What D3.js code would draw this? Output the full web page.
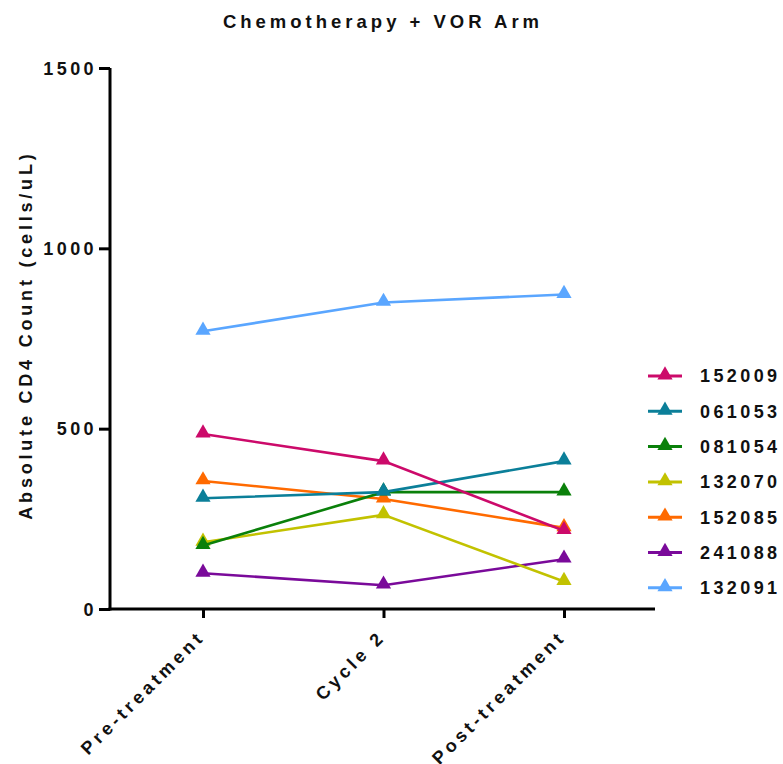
<!DOCTYPE html>
<html>
<head>
<meta charset="utf-8">
<script src="https://cdn.jsdelivr.net/npm/d3@7"></script>
<style>
  body { margin: 0; background: #fff; }
  text { font-family: "Liberation Sans", Arial, sans-serif; font-weight: bold; fill: #111; }
</style>
</head>
<body>
<div id="chart"></div>
<script>
// timepoints and patients
var timepoints = ["Pre-treatment", "Cycle 2", "Post-treatment"];
var patients = ["152009", "061053", "081054", "132070", "152085", "241088", "132091"];
var colors = ["#cc0a6a", "#0b7f99", "#0a800a", "#c2c200", "#ff6a00", "#7a0a9a", "#5aa6ff"];

// CD4 counts per patient, one per timepoint
var p152009 = [485, 410, 217];
var p061053 = [307, 324, 410];
var p081054 = [176, 324, 324];
var p132070 = [185, 261, 76];
var p152085 = [355, 305, 225];
var p241088 = [99, 66, 138];
var p132091 = [770, 850, 872];
var values = [p152009, p061053, p081054, p132070, p152085, p241088, p132091];

var yTicks = [0, 500, 1000, 1500];

var width = 783, height = 764;
var fs = 18, sp = 3.4; // wide letter spacing of the original

var svg = d3.select('#chart')
  .append('svg')
  .attr('width', width)
  .attr('height', height);

var x = d3.scalePoint().domain(timepoints).range([203, 564]);
var y = d3.scaleLinear().domain([0, 1500]).range([609, 68]);

// title
svg.append('text')
  .attr('x', 381 + 2)
  .attr('y', 28)
  .attr('text-anchor', 'middle')
  .style('font-size', '18.5px')
  .style('letter-spacing', '4px')
  .text('Chemotherapy + VOR Arm');

// y axis
var yAxis = svg.append('g')
  .attr('transform', 'translate(110,0)')
  .call(d3.axisLeft(y).tickValues(yTicks).tickFormat(d3.format('d')).tickSize(11).tickPadding(2));
yAxis.select('.domain').attr('stroke-width', 3).attr('d', 'M0,' + y(1500) + 'V' + (y(0) + 1.5));
yAxis.selectAll('.tick line').attr('stroke-width', 3);
yAxis.selectAll('.tick text')
  .style('font-size', fs + 'px')
  .style('letter-spacing', sp + 'px')
  .attr('dy', '0.35em');

// x axis
var xAxis = svg.append('g')
  .attr('transform', 'translate(0,609)')
  .call(d3.axisBottom(x).tickSize(9).tickFormat(''));
xAxis.select('.domain').attr('stroke-width', 3).attr('d', 'M108.5,0H655');
xAxis.selectAll('.tick line').attr('stroke-width', 3);

svg.selectAll('.xlab')
  .data(timepoints)
  .enter()
  .append('text')
  .attr('class', 'xlab')
  .attr('text-anchor', 'end')
  .attr('transform', function(d) { return 'translate(' + (x(d) + 3) + ',638) rotate(-45)'; })
  .style('font-size', fs + 'px')
  .style('letter-spacing', '3.8px')
  .text(function(d) { return d; });

// y label
svg.append('text')
  .attr('transform', 'translate(32,' + (337 - 1.9) + ') rotate(-90)')
  .attr('text-anchor', 'middle')
  .style('font-size', fs + 'px')
  .style('letter-spacing', '3.8px')
  .text('Absolute CD4 Count (cells/uL)');

var tri = d3.symbol().type(d3.symbolTriangle).size(100);

var line = d3.line()
  .x(function(d, i) { return x(timepoints[i]); })
  .y(function(d) { return y(d); });

// first patient drawn last so it sits on top, as in the original
var order = d3.range(values.length).reverse();

var series = svg.selectAll('.series')
  .data(order)
  .enter()
  .append('g')
  .attr('class', 'series');

series.append('path')
  .attr('d', function(k) { return line(values[k]); })
  .attr('fill', 'none')
  .attr('stroke', function(k) { return colors[k]; })
  .attr('stroke-width', 2.6);

series.each(function(k) {
  d3.select(this).selectAll('path.pt')
    .data(values[k])
    .enter()
    .append('path')
    .attr('class', 'pt')
    .attr('d', tri)
    .attr('fill', colors[k])
    .attr('transform', function(v, j) { return 'translate(' + x(timepoints[j]) + ',' + (y(v) - 1) + ')'; });
});

// legend
var legend = svg.selectAll('.leg')
  .data(patients)
  .enter()
  .append('g')
  .attr('class', 'leg')
  .attr('transform', function(d, i) { return 'translate(648,' + (376 + i * 35.3) + ')'; });

legend.append('line')
  .attr('x1', 0).attr('x2', 34)
  .attr('stroke', function(d, i) { return colors[i]; })
  .attr('stroke-width', 3);

legend.append('path')
  .attr('d', tri)
  .attr('transform', 'translate(17,-1)')
  .attr('fill', function(d, i) { return colors[i]; });

legend.append('text')
  .attr('x', 52)
  .attr('dy', '0.36em')
  .style('font-size', fs + 'px')
  .style('letter-spacing', sp + 'px')
  .text(function(d) { return d; });
</script>
</body>
</html>
